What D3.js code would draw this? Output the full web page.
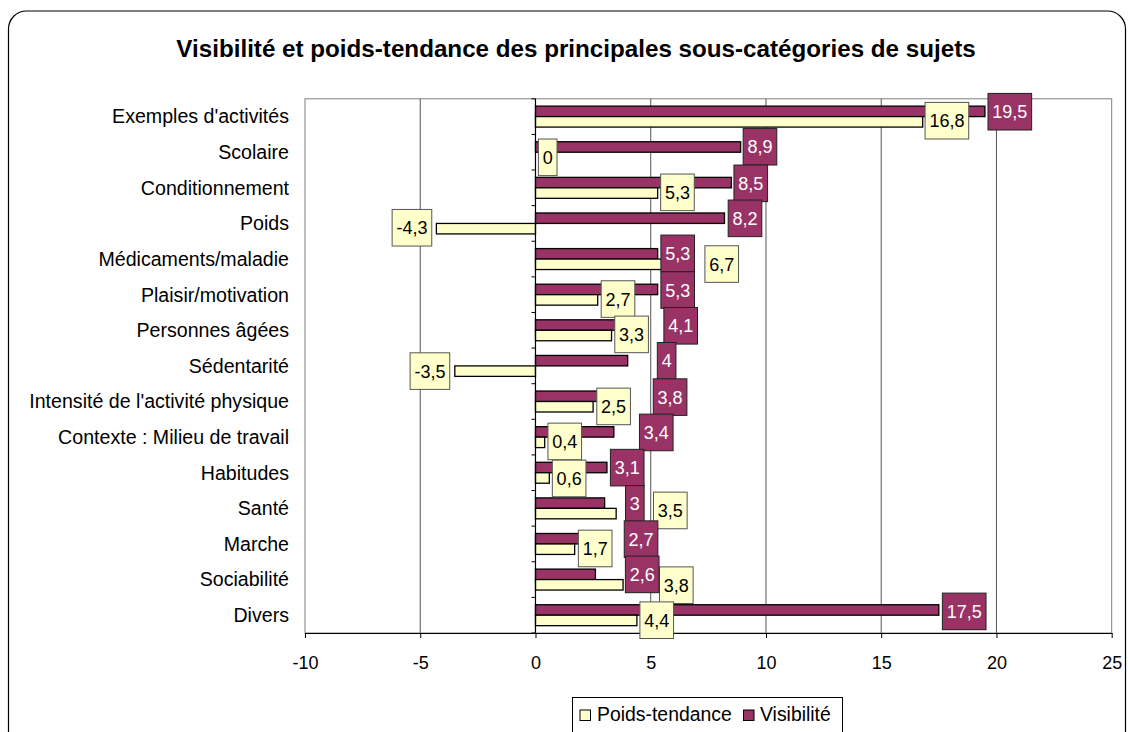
<!DOCTYPE html>
<html><head><meta charset="utf-8">
<script src="https://cdn.jsdelivr.net/npm/d3@7"></script>
<style>
body{margin:0;background:#fff}
svg{display:block}
text{font-family:"Liberation Sans",Arial,sans-serif}
</style>
</head><body>
<svg id="c" width="1128" height="732"></svg>
<script>
const title = "Visibilité et poids-tendance des principales sous-catégories de sujets";
const categories = ["Exemples d'activités","Scolaire","Conditionnement","Poids","Médicaments/maladie",
  "Plaisir/motivation","Personnes âgées","Sédentarité","Intensité de l'activité physique",
  "Contexte : Milieu de travail","Habitudes","Santé","Marche","Sociabilité","Divers"];
const visibilite    = [19.5, 8.9, 8.5, 8.2, 5.3, 5.3, 4.1, 4, 3.8, 3.4, 3.1, 3, 2.7, 2.6, 17.5];
const poidsTendance = [16.8, 0, 5.3, -4.3, 6.7, 2.7, 3.3, -3.5, 2.5, 0.4, 0.6, 3.5, 1.7, 3.8, 4.4];
const seriesNames = ["Poids-tendance", "Visibilité"];
const xTicks = [-10, -5, 0, 5, 10, 15, 20, 25];
// data label placement (label centre, in axis units, as moved by hand in the original)
const visLabelX   = [20.58, 9.74, 9.34, 9.09, 6.17, 6.17, 6.30, 5.69, 5.84, 5.24, 3.98, 4.31, 4.58, 4.63, 18.60];
const poidsLabelX = [17.85, 0.53, 6.16, -5.36, 8.08, 3.58, 4.17, -4.58, 3.39, 1.27, 1.46, 5.85, 2.59, 6.11, 5.26];
const visLabelDy   = [-4.9, -5.5, -4.5, -5.1, -5.7, -4.6, -4.5, -5.1, -4.4, -4.7, -5.1, -4.5, -4.8, -5.2, -3.8];
const poidsLabelDy = [4.1, 5.1, 4.5, 4.3, 5.0, 4.4, 4.1, 5.2, 4.9, 4.3, 5.7, 2.1, 4.5, 5.6, 5.0];

const C_VIS = "#993366", C_POIDS = "#FFFFCC";
const svg = d3.select("#c");
const P = {left: 305, right: 1111.7, top: 98.8, bottom: 633};

const x = d3.scaleLinear().domain([-10, 25]).range([P.left, P.right]);
const y = d3.scaleBand().domain(categories).range([P.top, P.bottom]);
const inner = d3.scaleBand().domain(["vis", "poids"]).range([0, y.bandwidth()]).paddingInner(0).paddingOuter(0.7);
const fmt = v => String(v).replace(".", ",");

// outer rounded frame
svg.append("rect").attr("x", 8.5).attr("y", 11).attr("width", 1117).attr("height", 760)
  .attr("rx", 18).attr("fill", "#fff").attr("stroke", "#000").attr("stroke-width", 1.2);

// title
svg.append("text").attr("x", 576).attr("y", 57).attr("text-anchor", "middle")
  .attr("font-size", 24.2).attr("font-weight", "bold").text(title);

// plot area
svg.append("rect").attr("x", P.left).attr("y", P.top).attr("width", P.right - P.left)
  .attr("height", P.bottom - P.top).attr("fill", "#fff").attr("stroke", "#808080").attr("stroke-width", 1);

// gridlines
svg.append("g").selectAll("line").data(xTicks.filter(t => t !== 0 && t !== -10 && t !== 25)).join("line")
  .attr("x1", d => x(d)).attr("x2", d => x(d)).attr("y1", P.top).attr("y2", P.bottom)
  .attr("stroke", "#555").attr("stroke-width", 1);

// bars
const rows = categories.map((c, i) => ({c, i, vis: visibilite[i], poids: poidsTendance[i]}));
const gBars = svg.append("g");
gBars.selectAll("rect.v").data(rows).join("rect").attr("class", "v")
  .attr("x", d => x(Math.min(0, d.vis))).attr("width", d => Math.abs(x(d.vis) - x(0)))
  .attr("y", d => y(d.c) + inner("vis")).attr("height", inner.bandwidth())
  .attr("fill", C_VIS).attr("stroke", "#000").attr("stroke-width", 1.3);
gBars.selectAll("rect.p").data(rows).join("rect").attr("class", "p")
  .attr("x", d => x(Math.min(0, d.poids))).attr("width", d => Math.abs(x(d.poids) - x(0)))
  .attr("y", d => y(d.c) + inner("poids")).attr("height", inner.bandwidth())
  .attr("fill", C_POIDS).attr("stroke", "#000").attr("stroke-width", 1.3);

// category axis at zero
const gY = svg.append("g");
gY.append("line").attr("x1", x(0)).attr("x2", x(0)).attr("y1", P.top).attr("y2", P.bottom)
  .attr("stroke", "#000").attr("stroke-width", 1.2);
const bounds = categories.map(c => y(c)).concat([P.bottom]);
gY.selectAll("line.t").data(bounds).join("line").attr("class", "t")
  .attr("x1", x(0) - 4).attr("x2", x(0)).attr("y1", d => d).attr("y2", d => d)
  .attr("stroke", "#000").attr("stroke-width", 1);
svg.append("g").selectAll("text").data(categories).join("text")
  .attr("x", 289).attr("y", d => y(d) + y.bandwidth() / 2).attr("dy", "0.35em")
  .attr("text-anchor", "end").attr("font-size", 19.6).attr("fill", "#000").text(d => d);

// value axis
const gX = svg.append("g").attr("transform", `translate(0,${P.bottom})`)
  .call(d3.axisBottom(x).tickValues(xTicks).tickSize(5).tickSizeOuter(0).tickFormat(d => d));
gX.select(".domain").attr("stroke", "#000").attr("stroke-width", 1.2);
gX.selectAll(".tick line").attr("stroke", "#000");
gX.selectAll(".tick text").attr("y", 36).attr("dy", 0).attr("font-size", 18)
  .attr("font-family", '"Liberation Sans",Arial,sans-serif').attr("fill", "#000");

// data labels
function labels(cls, vals, lx, ldy, fill, stroke, tcol) {
  const g = svg.append("g");
  const items = g.selectAll("g." + cls).data(rows).join("g").attr("class", cls)
    .attr("transform", d => `translate(${x(lx[d.i])},${y(d.c) + y.bandwidth() / 2 + ldy[d.i]})`);
  items.append("text").attr("text-anchor", "middle").attr("dy", "0.36em")
    .attr("font-size", 18).attr("fill", tcol).text(d => fmt(vals[d.i]));
  items.each(function() {
    const txt = d3.select(this).select("text");
    const w = txt.node().getComputedTextLength() + 8.6;
    d3.select(this).insert("rect", "text").attr("x", -w / 2).attr("y", -18.3)
      .attr("width", w).attr("height", 36.6).attr("fill", fill).attr("stroke", stroke).attr("stroke-width", 1);
  });
}
labels("pl", poidsTendance, poidsLabelX, poidsLabelDy, C_POIDS, "#555", "#000");
labels("vl", visibilite, visLabelX, visLabelDy, C_VIS, "#222", "#fff");

// legend
const lg = svg.append("g");
lg.append("rect").attr("x", 572.5).attr("y", 697.5).attr("width", 270).attr("height", 40)
  .attr("fill", "#fff").attr("stroke", "#000").attr("stroke-width", 1);
const legendItems = [
  {name: seriesNames[0], color: C_POIDS, sx: 580, tx: 597},
  {name: seriesNames[1], color: C_VIS, sx: 743.5, tx: 760}
];
const li = lg.selectAll("g").data(legendItems).join("g");
li.append("rect").attr("x", d => d.sx).attr("y", 710).attr("width", 10.5).attr("height", 10.5)
  .attr("fill", d => d.color).attr("stroke", "#000").attr("stroke-width", 1);
li.append("text").attr("x", d => d.tx).attr("y", 721).attr("font-size", 19.4).attr("fill", "#000").text(d => d.name);
</script>
</body></html>
